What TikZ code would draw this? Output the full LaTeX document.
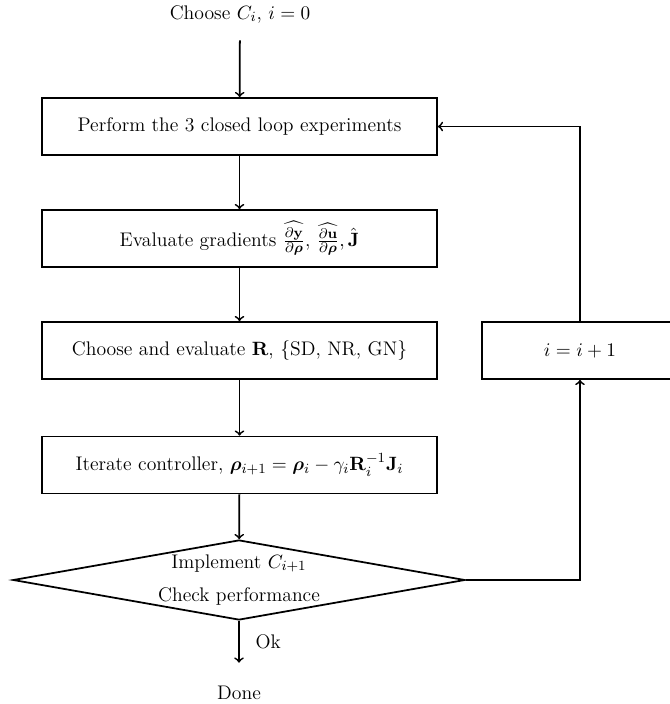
\documentclass[tikz,border=0pt]{standalone}
\usepackage{amsmath}
\usepackage{bm}
\usetikzlibrary{shapes.geometric}

\tikzset{
    every node/.style={font=\fontsize{11.2}{13.4}\selectfont},
    block/.style={draw,line width=1pt,minimum width=7.9cm,minimum height=1.14cm},
    decision/.style={draw,line width=1pt,diamond,aspect=5.65,inner sep=0pt,minimum width=9.04cm,minimum height=1.6cm,align=center},
    flow/.style={->,line width=1pt}
}

\begin{document}
\begin{tikzpicture}
        \useasboundingbox (0,0) rectangle (13.4,-14.08);
        \node[minimum height=1.04cm] (start) at (4.8,-0.28) {Choose $C_i$, $i=0$};
        \node[block] (perform) at (4.79,-2.53) {Perform the 3 closed loop experiments};
        \node[block] (grad) at (4.79,-4.77) {Evaluate gradients $\widehat{\frac{\partial \mathbf{y}}{\partial \bm{\rho}}}$, $\widehat{\frac{\partial \mathbf{u}}{\partial \bm{\rho}}}, \hat{\mathbf{J}}$};
        \node[block] (choose) at (4.79,-7.01) {Choose and evaluate $\mathbf{R}$, \{SD, NR, GN\}};
        \node[block] (iter) at (4.79,-9.30) {Iterate controller, $\bm{\rho}_{i+1} = \bm{\rho}_i - \gamma_i \mathbf{R}_i^{-1}\mathbf{J}_i$};
        \node[decision] (check) at (4.78,-11.6) {Implement $C_{i+1}$\\[1.2ex] Check performance};
        \node[minimum height=1.2cm] (done) at (4.78,-13.86) {Done};
        \node[block,minimum width=3.92cm] (incr) at (11.6,-7.01) {$i=i+1$};

        \draw[flow] (start) -- (perform);
        \draw[flow] (perform) -- (grad);
        \draw[flow] (grad) -- (choose);
        \draw[flow] (choose) -- (iter);
        \draw[flow] (iter) -- (check);
        \draw[flow] (check) -- node[right,xshift=0.2cm] {Ok} (done);
        \draw[flow] (check.east) -| (incr.south);
        \draw[flow] (incr.north) |- (perform.east);
\end{tikzpicture}
\end{document}
